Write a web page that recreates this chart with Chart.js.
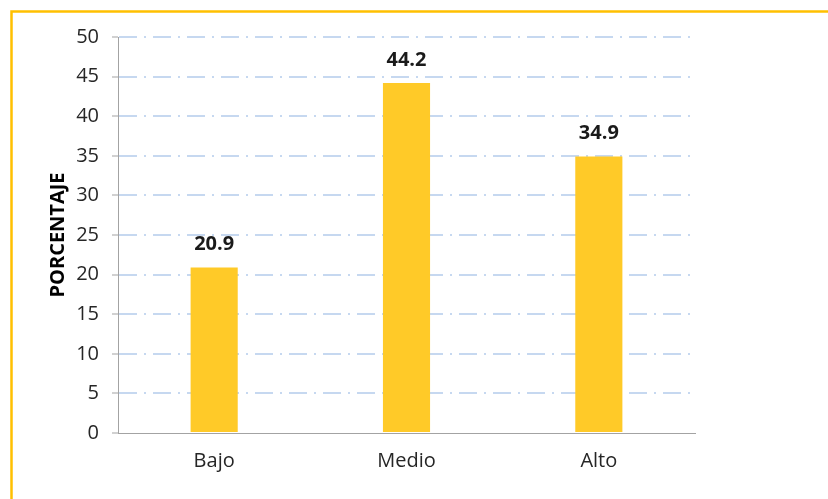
<!DOCTYPE html>
<html>
<head>
<meta charset="utf-8">
<script src="https://cdn.jsdelivr.net/npm/chart.js@4"></script>
<style>
  html, body { margin: 0; padding: 0; background: #fff; overflow: hidden; }
  #wrap { width: 828px; height: 499px; position: relative; }
</style>
</head>
<body>
<div id="wrap"><canvas id="chart"></canvas></div>
<script>
const categories = ['Bajo', 'Medio', 'Alto'];
const percentages = [20.9, 44.2, 34.9];
const yTicks = [0, 5, 10, 15, 20, 25, 30, 35, 40, 45, 50];

const FONT = '"Open Sans", "Liberation Sans", sans-serif';
const GRID_BLUE = '#C6D8F0';
const AXIS_GRAY = '#A3A3A3';

/* ── Gold frame around the chart ── */
const framePlugin = {
  id: 'frame',
  beforeDraw(chart) {
    const c = chart.ctx;
    c.save();
    c.strokeStyle = '#FFC000';
    c.lineWidth = 2.5;
    c.strokeRect(11.5, 11.5, chart.width + 40, chart.height + 40);
    c.restore();
  }
};

/* ── Value labels above each bar ── */
const valueLabels = {
  id: 'valueLabels',
  afterDatasetsDraw(chart) {
    const c = chart.ctx;
    const meta = chart.getDatasetMeta(0);
    c.save();
    c.font = 'bold 20px ' + FONT;
    c.fillStyle = '#1a1a1a';
    c.textAlign = 'center';
    c.textBaseline = 'middle';
    meta.data.forEach((bar, i) => {
      c.fillText(percentages[i].toFixed(1), bar.x, bar.y - 23);
    });
    c.restore();
  }
};

new Chart(document.getElementById('chart'), {
  type: 'bar',
  data: {
    labels: categories,
    datasets: [{
      data: percentages,
      backgroundColor: '#FFCA28',
      borderWidth: 0,
      categoryPercentage: 1,
      barPercentage: 0.245
    }]
  },
  options: {
    responsive: true,
    maintainAspectRatio: false,
    animation: false,
    layout: { padding: { left: 44, right: 133, top: 37, bottom: 0 } },
    plugins: {
      legend: { display: false },
      tooltip: { enabled: false }
    },
    scales: {
      x: {
        grid: { display: false, drawTicks: false, tickLength: 0 },
        border: { display: true, color: AXIS_GRAY, width: 1 },
        ticks: { color: '#262626', font: { family: FONT, size: 20 }, padding: 16 },
        afterFit: s => { s.height = 66; }
      },
      y: {
        min: 0,
        max: 50,
        afterBuildTicks: s => { s.ticks = yTicks.map(v => ({ value: v })); },
        grid: {
          color: ctx => (ctx.tick && ctx.tick.value === 0) ? 'rgba(0,0,0,0)' : GRID_BLUE,
          lineWidth: 2,
          tickColor: AXIS_GRAY,
          tickWidth: 1,
          tickLength: 6,
          tickBorderDash: []
        },
        // dash-dot pattern for the horizontal grid lines
        border: { display: true, color: AXIS_GRAY, width: 1, dash: [18, 7, 2, 7] },
        ticks: { color: '#262626', font: { family: FONT, size: 20 }, padding: 13 },
        title: {
          display: true,
          text: 'PORCENTAJE',
          color: '#000',
          font: { family: FONT, size: 20, weight: 'bold' },
          padding: { top: 2, bottom: 0 }
        },
        afterFit: s => { s.width = 74; }
      }
    }
  },
  plugins: [framePlugin, valueLabels]
});
</script>
</body>
</html>
